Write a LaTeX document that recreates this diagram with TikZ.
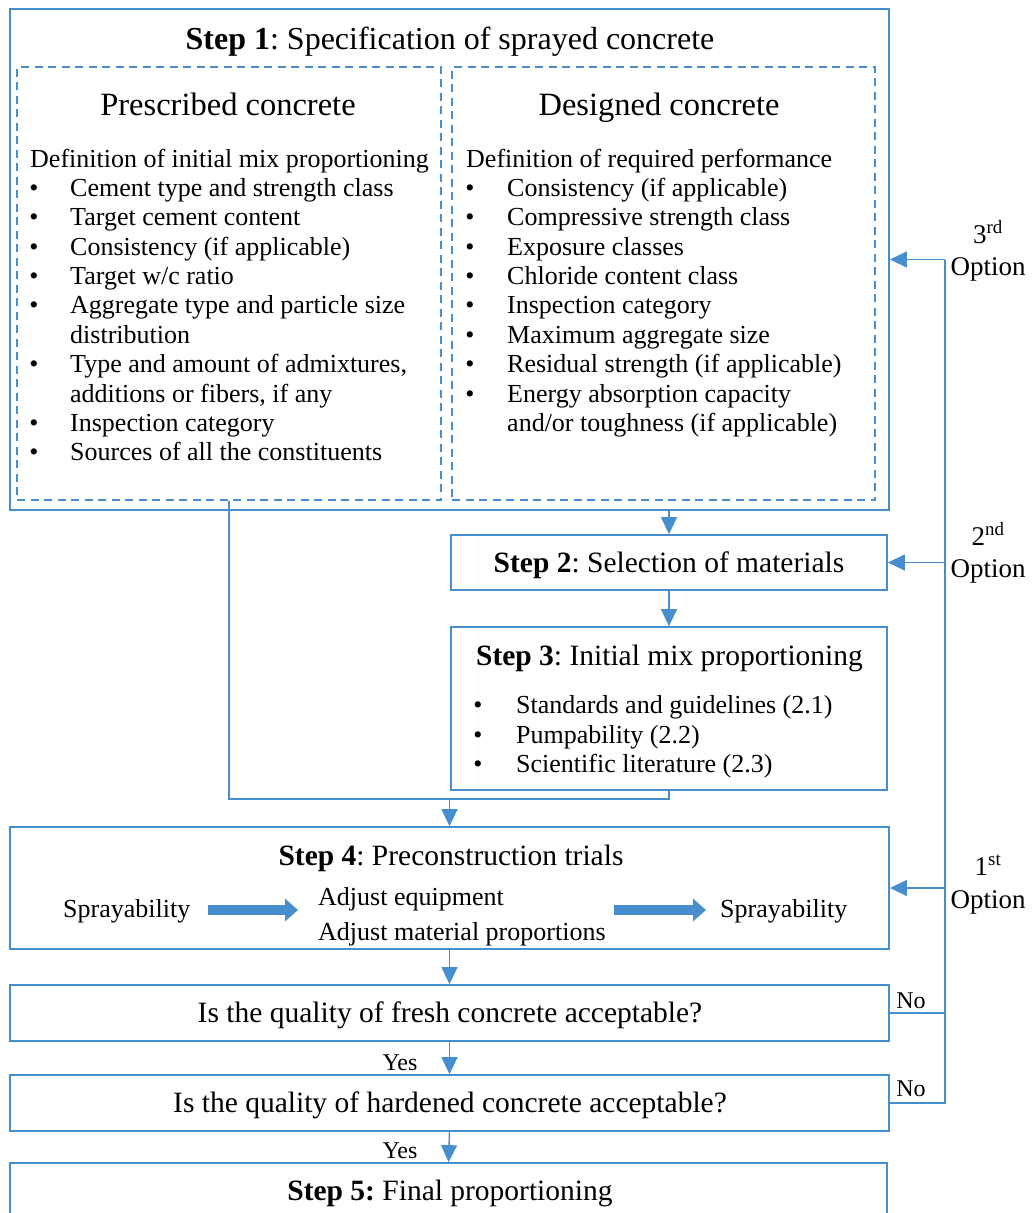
\documentclass[tikz,border=0pt]{standalone}
\usepackage{fontspec}
\setmainfont{Liberation Serif}
\usetikzlibrary{arrows.meta}
\definecolor{bl}{RGB}{70,142,205}
\newcommand\fsz[1]{\fontsize{#1pt}{#1pt}\selectfont}
\begin{document}
\frenchspacing
\begin{tikzpicture}[x=1pt,y=-1pt,
  bx/.style={draw=bl, line width=1.8pt, inner sep=0pt, rectangle},
  dbx/.style={draw=bl, line width=2pt, dash pattern=on 8pt off 5.5pt, inner sep=0pt, rectangle},
  tx/.style={anchor=base west, inner sep=0pt, font=\fsz{26}},
  bu/.style={anchor=base, inner sep=0pt, font=\fsz{26}},
  ct/.style={anchor=base, inner sep=0pt, font=\fsz{29.5}},
  lab/.style={anchor=base, inner sep=0pt, font=\fsz{24}},
  opt/.style={anchor=base, inner sep=0pt, font=\fsz{27}},
  conn/.style={draw=bl, line width=1.4pt},
  arr/.style={conn, -{Triangle[length=17pt,width=16pt]}},
  fat/.style={draw=bl, line width=10pt, -{Triangle[length=13pt,width=22pt]}}
]
\useasboundingbox (0,0) rectangle (1033,1213);
\clip (0,0) rectangle (1033,1213);

% boxes
\node[bx, minimum width=879pt, minimum height=501pt] (s1) at (449.5,259.5) {};
\node[dbx, minimum width=424pt, minimum height=433pt] (dL) at (229,283.5) {};
\node[dbx, minimum width=423pt, minimum height=433pt] (dR) at (663.5,283.5) {};
\node[bx, minimum width=436pt, minimum height=55pt] (s2) at (669,562.5) {};
\node[bx, minimum width=436pt, minimum height=163pt] (s3) at (669,708.5) {};
\node[bx, minimum width=879pt, minimum height=122pt] (s4) at (449.5,888) {};
\node[bx, minimum width=879pt, minimum height=56pt] (q1) at (449.5,1013) {};
\node[bx, minimum width=879pt, minimum height=56pt] (q2) at (449.5,1103) {};
\node[bx, minimum width=877pt, minimum height=80pt] (s5) at (448.5,1203) {};

% Step 1
\node[anchor=base, inner sep=0pt, font=\fsz{32}] (t1) at (450,49) {\textbf{Step 1}: Specification of sprayed concrete};
\node[anchor=base, inner sep=0pt, font=\fsz{32.5}] (pc) at (228,115) {Prescribed concrete};
\node[anchor=base, inner sep=0pt, font=\fsz{32.5}] (dc) at (659,115) {Designed concrete};

% left list
\node[tx] (lh) at (30,167) {Definition of initial mix proportioning};
\node[bu] (lb1) at (34,196) {\textbullet};
\node[tx] (l1) at (70,196) {Cement type and strength class};
\node[bu] (lb2) at (34,225.5) {\textbullet};
\node[tx] (l2) at (70,225.5) {Target cement content};
\node[bu] (lb3) at (34,255) {\textbullet};
\node[tx] (l3) at (70,255) {Consistency (if applicable)};
\node[bu] (lb4) at (34,284) {\textbullet};
\node[tx] (l4) at (70,284) {Target w/c ratio};
\node[bu] (lb5) at (34,313.5) {\textbullet};
\node[tx] (l5) at (70,313.5) {Aggregate type and particle size};
\node[tx] (l5b) at (70,343) {distribution};
\node[bu] (lb6) at (34,372) {\textbullet};
\node[tx] (l6) at (70,372) {Type and amount of admixtures,};
\node[tx] (l6b) at (70,402) {additions or fibers, if any};
\node[bu] (lb7) at (34,431) {\textbullet};
\node[tx] (l7) at (70,431) {Inspection category};
\node[bu] (lb8) at (34,460) {\textbullet};
\node[tx] (l8) at (70,460) {Sources of all the constituents};

% right list
\node[tx] (rh) at (466,167) {Definition of required performance};
\node[bu] (rb1) at (470,196) {\textbullet};
\node[tx] (r1) at (507,196) {Consistency (if applicable)};
\node[bu] (rb2) at (470,225.5) {\textbullet};
\node[tx] (r2) at (507,225.5) {Compressive strength class};
\node[bu] (rb3) at (470,255) {\textbullet};
\node[tx] (r3) at (507,255) {Exposure classes};
\node[bu] (rb4) at (470,284) {\textbullet};
\node[tx] (r4) at (507,284) {Chloride content class};
\node[bu] (rb5) at (470,313.5) {\textbullet};
\node[tx] (r5) at (507,313.5) {Inspection category};
\node[bu] (rb6) at (470,343) {\textbullet};
\node[tx] (r6) at (507,343) {Maximum aggregate size};
\node[bu] (rb7) at (470,372) {\textbullet};
\node[tx] (r7) at (507,372) {Residual strength (if applicable)};
\node[bu] (rb8) at (470,402) {\textbullet};
\node[tx] (r8) at (507,402) {Energy absorption capacity};
\node[tx] (r8b) at (507,431) {and/or toughness (if applicable)};

% Step 2, 3
\node[ct] (t2) at (669,572) {\textbf{Step 2}: Selection of materials};
\node[ct] (t3) at (669.5,665) {\textbf{Step 3}: Initial mix proportioning};
\node[bu] (sb1) at (478,713) {\textbullet};
\node[tx] (s31) at (516,713) {Standards and guidelines (2.1)};
\node[bu] (sb2) at (478,743) {\textbullet};
\node[tx] (s32) at (516,743) {Pumpability (2.2)};
\node[bu] (sb3) at (478,772) {\textbullet};
\node[tx] (s33) at (516,772) {Scientific literature (2.3)};

% Step 4
\node[ct] (t4) at (451,865) {\textbf{Step 4}: Preconstruction trials};
\node[tx] (spL) at (63,917) {Sprayability};
\node[tx] (a1) at (318,905) {Adjust equipment};
\node[tx] (a2) at (318,940) {Adjust material proportions};
\node[tx] (spR) at (720,917) {Sprayability};
\coordinate (fa1) at (208,910);
\coordinate (fa2) at (298,910);
\coordinate (fb1) at (614,910);
\coordinate (fb2) at (706,910);
\draw[fat] (fa1) -- (fa2);
\draw[fat] (fb1) -- (fb2);

% questions
\node[ct] (tq1) at (450,1022) {Is the quality of fresh concrete acceptable?};
\node[ct] (tq2) at (450,1112) {Is the quality of hardened concrete acceptable?};
\node[ct] (t5) at (450,1200) {\textbf{Step 5:} Final proportioning};

\node[lab] (y1) at (400,1070) {Yes};
\node[lab] (y2) at (400,1158) {Yes};
\node[lab] (n1) at (911,1008) {No};
\node[lab] (n2) at (911,1096) {No};

\node[opt] (o3a) at (988,243) {3\textsuperscript{rd}};
\node[opt] (o3b) at (988,275) {Option};
\node[opt] (o2a) at (988,545) {2\textsuperscript{nd}};
\node[opt] (o2b) at (988,577) {Option};
\node[opt] (o1a) at (988,875) {1\textsuperscript{st}};
\node[opt] (o1b) at (988,908) {Option};

% connectors
\coordinate (m) at (449.5,799);
\draw[conn] (dL.south) |- (m);
\draw[conn] (s3.south) |- (m);
\draw[arr] (m) -- (s4.north);
\draw[arr] (s1.south -| s2.north) -- (s2.north);
\draw[arr] (s2.south) -- (s3.north);
\draw[arr] (s4.south) -- (q1.north);
\draw[arr] (q1.south) -- (q2.north);
\draw[arr] (q2.south) -- (s5.north);

\coordinate (top) at (945,259.5);
\draw[conn] (q2.east) -| (top);
\draw[conn] (q1.east) -- (q1.east -| top);
\draw[arr] (top) -- (s1.east);
\draw[arr] (s2.east -| top) -- (s2.east);
\draw[arr] (s4.east -| top) -- (s4.east);
\end{tikzpicture}
\end{document}
